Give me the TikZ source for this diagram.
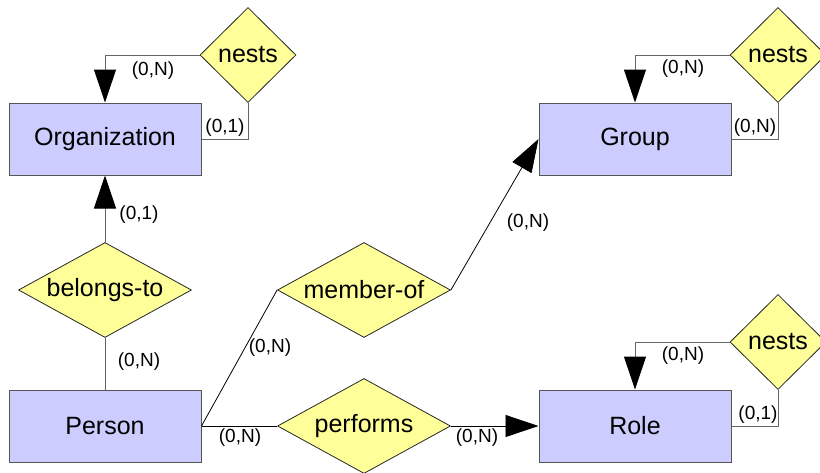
\documentclass[tikz,border=0pt]{standalone}
\usepackage{fontspec}
\setmainfont{Liberation Sans}
\usetikzlibrary{shapes.geometric,arrows.meta}

\definecolor{entfill}{HTML}{CCCCFF}
\definecolor{relfill}{HTML}{FFFF99}
\definecolor{linegray}{HTML}{666666}
\definecolor{boxline}{HTML}{555555}

\tikzset{
  entity/.style={draw=boxline, fill=entfill, line width=1pt,
    minimum width=192pt, minimum height=72pt, inner sep=0pt,
    font=\fontsize{25}{28}\selectfont},
  relship/.style={diamond, draw=black!85, fill=relfill, line width=0.8pt,
    inner sep=0pt, font=\fontsize{25}{28}\selectfont},
  smallrel/.style={relship, aspect=1, minimum width=96pt, minimum height=95pt},
  widerel/.style={relship, aspect=1.8, minimum width=173pt, minimum height=95pt},
  card/.style={font=\fontsize{19}{21}\selectfont, inner sep=0pt},
  link/.style={draw=linegray, line width=1pt},
  thinlink/.style={draw=black, line width=0.8pt},
  headed/.style={-{Triangle[length=33pt,width=22pt,color=black]}},
}

\begin{document}
\begin{tikzpicture}[x=1pt, y=-1pt]
  \useasboundingbox (0,0) rectangle (820,472);
  \clip (0,0) rectangle (820,472);

  % entities
  \node[entity] (org)  at (105,139) {Organization};
  \node[entity] (grp)  at (635,139) {Group};
  \node[entity] (per)  at (105,426) {Person};
  \node[entity] (role) at (635,426) {Role};

  % relationships
  \node[smallrel] (nestO) at (248,55)  {nests};
  \node[smallrel] (nestG) at (778,55)  {nests};
  \node[smallrel] (nestR) at (778,342) {nests};
  \node[widerel]  (belongs) at (105,290) {belongs-to};
  \node[widerel]  (member)  at (364,290) {member-of};
  \node[widerel]  (perform) at (364,426) {performs};

  % recursive "nests" links
  \draw[link, headed] (nestO.west) -| (org.north);
  \draw[link] (nestO.south) |- (org.east);
  \draw[link, headed] (nestG.west) -| (grp.north);
  \draw[link] (nestG.south) |- (grp.east);
  \draw[link, headed] (nestR.west) -| (role.north);
  \draw[link] (nestR.south) |- (role.east);

  % person links
  \draw[link, headed] (belongs.north) -- (org.south);
  \draw[link] (belongs.south) -- (per.north);
  \draw[thinlink] (per.east) -- (member.west);
  \draw[thinlink, headed] (member.east) -- (grp.west);
  \draw[thinlink] (per.east) -- (perform.west);
  \draw[thinlink, headed] (perform.east) -- (role.west);

  % cardinalities
  \node[card] (c1)  at (153,71)  {(0,N)};
  \node[card] (c2)  at (225,128) {(0,1)};
  \node[card] (c3)  at (683,69)  {(0,N)};
  \node[card] (c4)  at (755,128) {(0,N)};
  \node[card] (c5)  at (683,356) {(0,N)};
  \node[card] (c6)  at (758,415) {(0,1)};
  \node[card] (c7)  at (139,215) {(0,1)};
  \node[card] (c8)  at (139,362) {(0,N)};
  \node[card] (c9)  at (270,348) {(0,N)};
  \node[card] (c10) at (528,223) {(0,N)};
  \node[card] (c11) at (240,438) {(0,N)};
  \node[card] (c12) at (477,438) {(0,N)};
\end{tikzpicture}
\end{document}
